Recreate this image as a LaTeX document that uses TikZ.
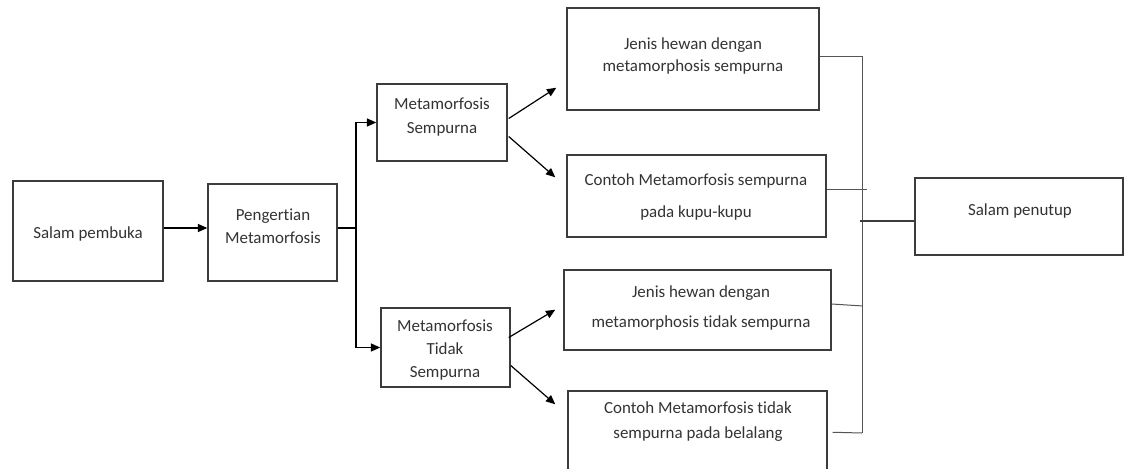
\documentclass[tikz,border=0pt]{standalone}
\usepackage{fontspec}
\setmainfont[Ligatures={NoCommon,NoRare,NoContextual}]{Carlito}
\usetikzlibrary{fit,calc,arrows.meta}
\definecolor{ink}{HTML}{333333}
\definecolor{edge}{HTML}{3C3C3C}
\definecolor{thin}{HTML}{555555}
\tikzset{
  box/.style={draw=edge, line width=1.1pt, inner sep=0pt, rectangle},
  txt/.style={font=\fontsize{12.7pt}{#1}\selectfont, align=center, inner sep=0pt, text=ink},
  arr/.style={draw=black, line width=0.9pt, -{Triangle[length=7pt,width=6pt]}},
  conn/.style={draw=thin, line width=0.75pt},
}
\begin{document}
\begin{tikzpicture}[x=0.75pt,y=-0.75pt]
\clip (0,0) rectangle (1128,468);
\fill[white] (0,0) rectangle (1128,468);
% boxes
\node[box, fit={(13,181) (163,281)}] (spb) {};
\node[box, fit={(208,184) (337,281)}] (pm) {};
\node[box, fit={(377,84) (507,161)}] (ms) {};
\node[box, fit={(381,308) (510,387)}] (mts) {};
\node[box, fit={(567,8) (819,110)}] (b1) {};
\node[box, fit={(567,155) (826,237)}] (b2) {};
\node[box, fit={(564,270) (831,350)}] (b3) {};
\node[box, fit={(568,391) (827,490)}] (b4) {};
\node[box, fit={(915,178) (1123,255)}] (spt) {};
% texts
\node[txt=15pt] (spbt) at (88,234) {Salam pembuka};
\node[txt=17.25pt] (pmt) at (273,226) {Pengertian\\Metamorfosis};
\node[txt=18pt] (mst) at (442,117) {Metamorfosis\\Sempurna};
\node[txt=16.9pt] (mtst) at (445,350) {Metamorfosis\\Tidak\\Sempurna};
\node[txt=16.5pt] (b1t) at (693,56) {Jenis hewan dengan\\metamorphosis sempurna};
\node[txt=24pt] (b2t) at (696,197) {Contoh Metamorfosis sempurna\\pada kupu-kupu};
\node[txt=22.5pt] (b3t) at (701,308) {Jenis hewan dengan\\metamorphosis tidak sempurna};
\node[txt=18.75pt] (b4t) at (698,422) {Contoh Metamorfosis tidak\\sempurna pada belalang};
\node[txt=15pt] (sptt) at (1020,211) {Salam penutup};
% left connectors
\coordinate (fork) at (356,228);
\draw[arr] ($(spb.east)+(0,-3)$) -- ($(pm.west)+(0,-4.5)$);
\draw[draw=black, line width=0.9pt] ($(pm.east)+(0,-4.5)$) -- (fork);
\draw[arr] (fork) |- (ms.west);
\draw[arr] (fork) |- (mts.west);
% diagonal arrows
\draw[arr] ($(ms.east)+(1,-4)$) -- ($(b1.south west)+(-10,-23)$);
\draw[arr] ($(ms.east)+(1,14)$) -- ($(b2.north west)+(-11,23)$);
\draw[arr] ($(mts.east)+(-2,-10)$) -- ($(b3.south west)+(-8,-41)$);
\draw[arr] ($(mts.east)+(0,18)$) -- ($(b4.north west)+(-12,14)$);
% right connectors
\coordinate (vtop) at (862,56);
\coordinate (vbot) at (862,433);
\coordinate (vmid) at (860,221);
\draw[conn] (vtop) -- (vbot);
\draw[conn] ($(b1.east)+(0,-3)$) -- (vtop);
\draw[conn] ($(b2.east)+(0,-7)$) -- ++(40,0);
\draw[conn] ($(b3.east)+(0,-6)$) -- ($(b3.east)+(31,-4)$);
\draw[conn] ($(b4.north east)+(5,42)$) -- (vbot);
\draw[conn, line width=1.2pt, draw=edge] (vmid) -- ($(spt.west)+(0,4.5)$);
\end{tikzpicture}
\end{document}
